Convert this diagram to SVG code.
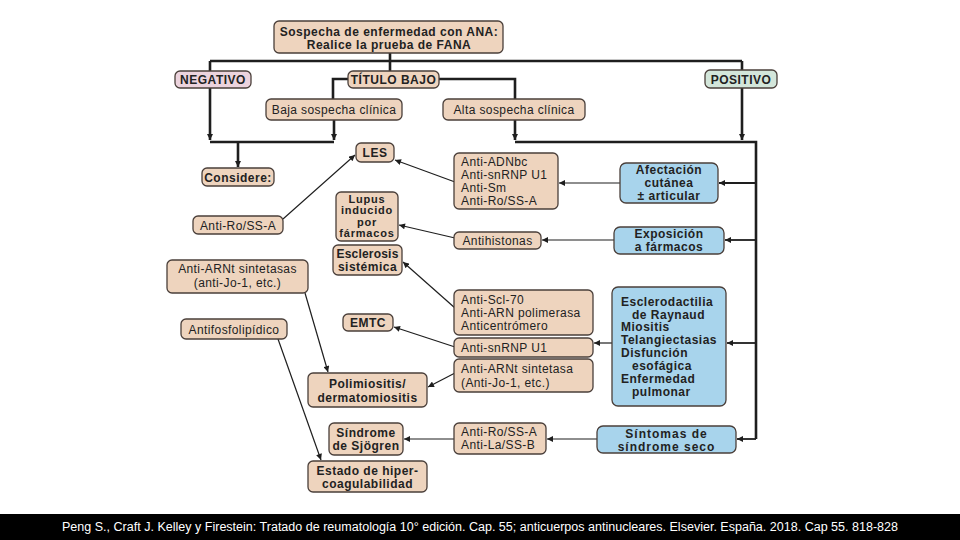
<svg xmlns="http://www.w3.org/2000/svg" width="960" height="540" viewBox="0 0 960 540">
<style>
text{font-family:"Liberation Sans",Arial,sans-serif;font-size:12px;letter-spacing:0.4px;fill:#222}
.b{font-weight:bold;letter-spacing:0.5px}
.c{text-anchor:middle}
.sm{font-size:11px;letter-spacing:0.8px}
.tan{fill:#eed4be;stroke:#4a3f3a;stroke-width:1.3}
.pink{fill:#ecd3dd;stroke:#4a3f3a;stroke-width:1.3}
.green{fill:#d3e6da;stroke:#4a3f3a;stroke-width:1.3}
.blue{fill:#a8d4ec;stroke:#4a3f3a;stroke-width:1.3}
.thick{fill:none;stroke:#1e1e1e;stroke-width:2.6}
.med{fill:none;stroke:#1e1e1e;stroke-width:1.8}
.thin{fill:none;stroke:#1e1e1e;stroke-width:1.2}
.foot{font-family:"Liberation Sans",Arial,sans-serif;font-size:12px;letter-spacing:0;fill:#fff}
</style>
<defs>
<marker id="ah" viewBox="0 0 10 10" refX="10" refY="5" markerWidth="7" markerHeight="6" markerUnits="userSpaceOnUse" orient="auto">
<path d="M0,0 L10,5 L0,10 Z" fill="#1e1e1e"/>
</marker>
</defs>
<rect width="960" height="540" fill="#fff"/>
<g id="connectors">
<path class="thick" d="M390,53 V61 M210,61 H742 M210,61 V71 M390,61 V71 M742,61 V70"/>
<path class="thick" d="M348,79 H333 V99 M439,79 H515 V99"/>
<path class="thick" d="M210,88 V140" marker-end="url(#ah)"/>
<path class="thick" d="M334,120 V140" marker-end="url(#ah)"/>
<path class="thick" d="M210,142 H334"/>
<path class="thick" d="M238,142 V167" marker-end="url(#ah)"/>
<path class="thick" d="M515,120 V140" marker-end="url(#ah)"/>
<path class="thick" d="M742,88 V140" marker-end="url(#ah)"/>
<path class="thick" d="M515,142 H756 V439"/>
<path class="med" d="M756,183 H719" marker-end="url(#ah)"/>
<path class="med" d="M756,240 H725" marker-end="url(#ah)"/>
<path class="med" d="M756,343 H727" marker-end="url(#ah)"/>
<path class="med" d="M756,439 H737" marker-end="url(#ah)"/>
<path class="thin" d="M620,183 H559" marker-end="url(#ah)"/>
<path class="thin" d="M614,240 H542" marker-end="url(#ah)"/>
<path class="thin" d="M612,343 H594" marker-end="url(#ah)"/>
<path class="thin" d="M597,439 H547" marker-end="url(#ah)"/>
<path class="thin" d="M455,182 L395,160" marker-end="url(#ah)"/>
<path class="thin" d="M455,238 L399,225" marker-end="url(#ah)"/>
<path class="thin" d="M455,308 L403,262" marker-end="url(#ah)"/>
<path class="thin" d="M455,347 L394,327" marker-end="url(#ah)"/>
<path class="thin" d="M455,373 L428,387" marker-end="url(#ah)"/>
<path class="thin" d="M454,439 L404,439" marker-end="url(#ah)"/>
<path class="thin" d="M283,219 L355,155" marker-end="url(#ah)"/>
<path class="thin" d="M305,293 L328,372" marker-end="url(#ah)"/>
<path class="thin" d="M278,339 L321,460" marker-end="url(#ah)"/>
</g>
<g id="title"><rect class="tan" x="274" y="21" width="229" height="32" rx="5"/><text class="b c" x="389" y="35.5">Sospecha de enfermedad con ANA:</text><text class="b c" x="389" y="48.5">Realice la prueba de FANA</text></g>
<g id="negativo"><rect class="pink" x="175" y="71" width="76" height="17" rx="5"/><text class="b c" x="213" y="84">NEGATIVO</text></g>
<g id="titulo-bajo"><rect class="tan" x="348" y="71" width="91" height="17" rx="5"/><text class="b c" x="393.5" y="84">TÍTULO BAJO</text></g>
<g id="positivo"><rect class="green" x="705" y="70" width="72" height="18" rx="5"/><text class="b c" x="741" y="83.5">POSITIVO</text></g>
<g id="baja"><rect class="tan" x="266" y="99" width="136" height="21" rx="5"/><text class="c" x="334" y="114">Baja sospecha clínica</text></g>
<g id="alta"><rect class="tan" x="443" y="99" width="142" height="21" rx="5"/><text class="c" x="514" y="114">Alta sospecha clínica</text></g>
<g id="considere"><rect class="tan" x="202" y="168" width="72" height="18" rx="5"/><text class="b c" x="238" y="181.5">Considere:</text></g>
<g id="les"><rect class="tan" x="356" y="143" width="38" height="19" rx="5"/><text class="b c" x="375" y="157">LES</text></g>
<g id="anti-ro-left"><rect class="tan" x="193" y="216" width="90" height="18" rx="5"/><text class="c" x="238" y="229.5">Anti-Ro/SS-A</text></g>
<g id="lupus"><rect class="tan" x="336" y="192" width="62" height="49" rx="5"/><text class="b c sm" x="367" y="202.5">Lupus</text><text class="b c sm" x="367" y="214">inducido</text><text class="b c sm" x="367" y="225.5">por</text><text class="b c sm" x="367" y="237">fármacos</text></g>
<g id="esclerosis"><rect class="tan" x="333" y="245" width="69" height="30" rx="5"/><text class="b c" x="367.5" y="258" style="letter-spacing:0.2px">Esclerosis</text><text class="b c" x="367.5" y="270.5">sistémica</text></g>
<g id="anti-arnt-left"><rect class="tan" x="167" y="260" width="141" height="33" rx="5"/><text class="c" x="237.5" y="273">Anti-ARNt sintetasas</text><text class="c" x="237.5" y="286.5">(anti-Jo-1, etc.)</text></g>
<g id="antifosfolipidico"><rect class="tan" x="181" y="319" width="106" height="20" rx="5"/><text class="c" x="234" y="333.5">Antifosfolipídico</text></g>
<g id="emtc"><rect class="tan" x="343" y="314" width="50" height="17" rx="5"/><text class="b c" x="368" y="327">EMTC</text></g>
<g id="polimiositis"><rect class="tan" x="308" y="373" width="119" height="34" rx="5"/><text class="b c" x="367.5" y="388">Polimiositis/</text><text class="b c" x="367.5" y="401.5">dermatomiositis</text></g>
<g id="sjogren"><rect class="tan" x="329" y="423" width="74" height="32" rx="5"/><text class="b c" x="366" y="437">Síndrome</text><text class="b c" x="366" y="449.5">de Sjögren</text></g>
<g id="hipercoagulabilidad"><rect class="tan" x="308" y="461" width="119" height="31" rx="5"/><text class="b c" x="367.5" y="475">Estado de hiper-</text><text class="b c" x="367.5" y="488">coagulabilidad</text></g>
<g id="anti-adnbc"><rect class="tan" x="454" y="153" width="104" height="56" rx="5"/><text x="461" y="166">Anti-ADNbc</text><text x="461" y="179">Anti-snRNP U1</text><text x="461" y="192">Anti-Sm</text><text x="461" y="204.5">Anti-Ro/SS-A</text></g>
<g id="antihistonas"><rect class="tan" x="454" y="232" width="87" height="17" rx="5"/><text class="c" x="497.5" y="245">Antihistonas</text></g>
<g id="anti-scl70"><rect class="tan" x="454" y="290" width="139" height="45" rx="5"/><text x="461" y="304">Anti-Scl-70</text><text x="461" y="317">Anti-ARN polimerasa</text><text x="461" y="330">Anticentrómero</text></g>
<g id="anti-snrnp"><rect class="tan" x="454" y="338" width="139" height="19" rx="5"/><text x="461" y="352">Anti-snRNP U1</text></g>
<g id="anti-arnt-right"><rect class="tan" x="454" y="359" width="139" height="33" rx="5"/><text x="461" y="373">Anti-ARNt sintetasa</text><text x="461" y="386.5">(Anti-Jo-1, etc.)</text></g>
<g id="anti-ro-la"><rect class="tan" x="454" y="423" width="92" height="31" rx="5"/><text x="461" y="436">Anti-Ro/SS-A</text><text x="461" y="449">Anti-La/SS-B</text></g>
<g id="afectacion"><rect class="blue" x="620" y="163" width="98" height="40" rx="6"/><text class="b c" x="669" y="174">Afectación</text><text class="b c" x="669" y="187">cutánea</text><text class="b c" x="669" y="199.5">± articular</text></g>
<g id="exposicion"><rect class="blue" x="614" y="227" width="110" height="27" rx="6"/><text class="b c" x="669" y="238">Exposición</text><text class="b c" x="669" y="251">a fármacos</text></g>
<g id="esclerodactilia"><rect class="blue" x="612" y="287" width="114" height="119" rx="6"/><text class="b" x="621" y="306">Esclerodactilia</text><text class="b" x="632" y="318.5">de Raynaud</text><text class="b" x="621" y="331">Miositis</text><text class="b" x="621" y="344">Telangiectasias</text><text class="b" x="621" y="357">Disfunción</text><text class="b" x="632" y="370">esofágica</text><text class="b" x="621" y="383">Enfermedad</text><text class="b" x="632" y="396">pulmonar</text></g>
<g id="sintomas"><rect class="blue" x="597" y="426" width="139" height="27" rx="6"/><text class="b c" x="666.5" y="437.5" style="letter-spacing:1px">Síntomas de</text><text class="b c" x="666.5" y="450.5" style="letter-spacing:1px">síndrome seco</text></g>
<rect x="0" y="514" width="960" height="26" fill="#000"/>
<text class="foot" x="480" y="531" text-anchor="middle" textLength="836" lengthAdjust="spacingAndGlyphs">Peng S., Craft J. Kelley y Firestein: Tratado de reumatología 10° edición. Cap. 55; anticuerpos antinucleares. Elsevier. España. 2018. Cap 55. 818-828</text>
</svg>
